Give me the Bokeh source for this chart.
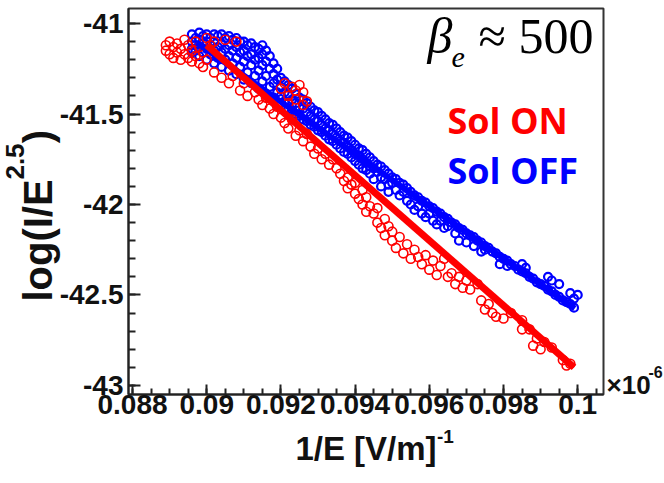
import math
from bokeh.plotting import figure
from bokeh.models import (Range1d, SingleIntervalTicker, FixedTicker, CustomJSTickFormatter,
                          Label, ColumnDataSource, LinearAxis)
from bokeh.embed import file_html
from bokeh.resources import INLINE

# ---------------- data ----------------
# Sol ON (red open circles): (1/E, log(I/E^2.5))
sol_on_points = [
    (0.0889, -41.12), (0.0889, -41.15), (0.0890, -41.10), (0.0890, -41.17), (0.0891, -41.13),
    (0.0891, -41.19), (0.0892, -41.11), (0.0892, -41.16), (0.0893, -41.14), (0.0893, -41.20),
    (0.0894, -41.09), (0.0894, -41.17), (0.0895, -41.12), (0.0895, -41.19), (0.0896, -41.15),
    (0.0896, -41.21), (0.0897, -41.10), (0.0897, -41.18), (0.0898, -41.13), (0.0898, -41.22),
    (0.0899, -41.16), (0.0900, -41.08), (0.0900, -41.20), (0.0901, -41.12), (0.0902, -41.10),
    (0.0905, -41.09), (0.0908, -41.10),
    (0.0899, -41.24), (0.0902, -41.27), (0.0904, -41.30), (0.0906, -41.33), (0.0907, -41.29),
    (0.0909, -41.37), (0.0910, -41.33), (0.0911, -41.40), (0.0913, -41.38), (0.0914, -41.42),
    (0.0915, -41.45), (0.0916, -41.41), (0.0917, -41.47), (0.0918, -41.50), (0.0919, -41.46),
    (0.0920, -41.36), (0.0921, -41.33), (0.0922, -41.40), (0.0923, -41.35), (0.0924, -41.42),
    (0.0925, -41.34), (0.0926, -41.38), (0.0927, -41.43), (0.0922, -41.44), (0.0924, -41.37),
    (0.0926, -41.45),
    (0.0920, -41.52), (0.0921, -41.55), (0.0922, -41.58), (0.0923, -41.53), (0.0924, -41.62),
    (0.0925, -41.59), (0.0926, -41.65), (0.0927, -41.61), (0.0928, -41.68), (0.0929, -41.72),
    (0.0930, -41.69), (0.0931, -41.75), (0.0932, -41.72), (0.0933, -41.78), (0.0934, -41.75),
    (0.0935, -41.80),
    (0.0936, -41.83), (0.0937, -41.87), (0.0938, -41.85), (0.0938, -41.91), (0.0939, -41.89),
    (0.0940, -41.94), (0.0940, -41.88), (0.0941, -41.97), (0.0942, -41.92), (0.0942, -42.00),
    (0.0943, -41.96), (0.0943, -42.04), (0.0944, -42.01),
    (0.0945, -42.05), (0.0946, -42.10), (0.0946, -42.02), (0.0947, -42.13), (0.0948, -42.08),
    (0.0948, -42.17), (0.0949, -42.12), (0.0950, -42.20), (0.0950, -42.15), (0.0951, -42.24),
    (0.0952, -42.18), (0.0953, -42.27), (0.0954, -42.22), (0.0955, -42.30),
    (0.0956, -42.25), (0.0957, -42.29), (0.0958, -42.33), (0.0959, -42.28), (0.0960, -42.36),
    (0.0961, -42.31), (0.0962, -42.39), (0.0963, -42.34), (0.0964, -42.30), (0.0965, -42.40),
    (0.0966, -42.38), (0.0967, -42.44), (0.0968, -42.40), (0.0969, -42.46), (0.0970, -42.42),
    (0.0971, -42.47), (0.0973, -42.44), (0.0974, -42.53), (0.0975, -42.58), (0.0976, -42.55),
    (0.0977, -42.60), (0.0978, -42.62), (0.0980, -42.63), (0.0982, -42.60), (0.0985, -42.64),
    (0.0985, -42.69), (0.0987, -42.69), (0.0988, -42.78), (0.0989, -42.74), (0.0990, -42.80),
    (0.0991, -42.76), (0.0993, -42.79), (0.0996, -42.86), (0.0997, -42.89), (0.0998, -42.88),
]

# Sol OFF (blue open circles)
sol_off_points = [
    (0.0896, -41.06), (0.0896, -41.10), (0.0896, -41.14), (0.0896, -41.16),
    (0.0897, -41.08), (0.0897, -41.12), (0.0897, -41.15),
    (0.0898, -41.05), (0.0898, -41.09), (0.0898, -41.13), (0.0898, -41.18),
    (0.0899, -41.07), (0.0899, -41.11), (0.0899, -41.16),
    (0.0900, -41.06), (0.0900, -41.10), (0.0900, -41.14), (0.0900, -41.20),
    (0.0901, -41.08), (0.0901, -41.12), (0.0901, -41.17),
    (0.0902, -41.06), (0.0902, -41.10), (0.0902, -41.15), (0.0902, -41.22),
    (0.0903, -41.07), (0.0903, -41.13), (0.0903, -41.19),
    (0.0904, -41.06), (0.0904, -41.11), (0.0904, -41.16), (0.0904, -41.24),
    (0.0905, -41.08), (0.0905, -41.14), (0.0905, -41.20),
    (0.0906, -41.07), (0.0906, -41.12), (0.0906, -41.18), (0.0906, -41.26),
    (0.0907, -41.09), (0.0907, -41.15), (0.0907, -41.22),
    (0.0908, -41.08), (0.0908, -41.13), (0.0908, -41.19), (0.0908, -41.28),
    (0.0909, -41.10), (0.0909, -41.16), (0.0909, -41.24),
    (0.0910, -41.10), (0.0910, -41.15), (0.0910, -41.21), (0.0910, -41.31),
    (0.0911, -41.12), (0.0911, -41.18), (0.0911, -41.27),
    (0.0912, -41.11), (0.0912, -41.17), (0.0912, -41.23), (0.0912, -41.33),
    (0.0913, -41.13), (0.0913, -41.20), (0.0913, -41.29),
    (0.0914, -41.14), (0.0914, -41.19), (0.0914, -41.26), (0.0914, -41.36),
    (0.0915, -41.12), (0.0915, -41.17), (0.0915, -41.23), (0.0915, -41.32),
    (0.0916, -41.15), (0.0916, -41.21), (0.0916, -41.29), (0.0916, -41.39),
    (0.0917, -41.18), (0.0917, -41.25), (0.0917, -41.35),
    (0.0918, -41.22), (0.0918, -41.28), (0.0918, -41.33), (0.0918, -41.41),
    (0.0919, -41.25), (0.0919, -41.31), (0.0919, -41.38),
    (0.0920, -41.30), (0.0920, -41.35), (0.0920, -41.40), (0.0920, -41.44),
    (0.0921, -41.32), (0.0921, -41.38), (0.0921, -41.43),
    (0.0922, -41.34), (0.0922, -41.39), (0.0922, -41.44), (0.0922, -41.47),
    (0.0923, -41.36), (0.0923, -41.42), (0.0923, -41.48),
    (0.0924, -41.39), (0.0924, -41.44), (0.0924, -41.50),
    (0.0925, -41.41), (0.0925, -41.46), (0.0925, -41.51),
    (0.0926, -41.42), (0.0926, -41.47), (0.0926, -41.53),
    (0.0927, -41.44), (0.0927, -41.49), (0.0927, -41.54),
    (0.0928, -41.46), (0.0928, -41.51), (0.0928, -41.56),
    (0.0929, -41.48), (0.0929, -41.53), (0.0929, -41.57),
    (0.0930, -41.49), (0.0930, -41.54), (0.0930, -41.59),
    (0.0931, -41.51), (0.0931, -41.56), (0.0931, -41.60),
    (0.0932, -41.53), (0.0932, -41.58), (0.0932, -41.62),
    (0.0933, -41.55), (0.0933, -41.59), (0.0933, -41.64),
    (0.0934, -41.56), (0.0934, -41.61), (0.0934, -41.65),
    (0.0935, -41.58), (0.0935, -41.63), (0.0935, -41.67),
    (0.0936, -41.60), (0.0936, -41.65), (0.0936, -41.69),
    (0.0937, -41.62), (0.0937, -41.66), (0.0937, -41.71),
    (0.0938, -41.63), (0.0938, -41.68), (0.0938, -41.72),
    (0.0939, -41.65), (0.0939, -41.70), (0.0939, -41.74),
    (0.0940, -41.67), (0.0940, -41.72), (0.0940, -41.76),
    (0.0941, -41.69), (0.0941, -41.73), (0.0941, -41.78),
    (0.0942, -41.70), (0.0942, -41.75), (0.0942, -41.80),
    (0.0943, -41.72), (0.0943, -41.77), (0.0943, -41.81),
    (0.0944, -41.74), (0.0944, -41.79), (0.0944, -41.83),
    (0.0945, -41.76), (0.0945, -41.80), (0.0945, -41.86),
    (0.0946, -41.78), (0.0946, -41.82),
    (0.0947, -41.79), (0.0947, -41.85), (0.0947, -41.90),
    (0.0948, -41.81), (0.0948, -41.86),
    (0.0949, -41.83), (0.0949, -41.89), (0.0949, -41.93),
    (0.0950, -41.85), (0.0950, -41.88),
    (0.0951, -41.86), (0.0951, -41.92),
    (0.0952, -41.88), (0.0952, -41.95),
    (0.0953, -41.89), (0.0953, -41.93),
    (0.0954, -41.91), (0.0954, -41.98),
    (0.0955, -41.93), (0.0955, -42.00),
    (0.0956, -41.95), (0.0956, -42.03),
    (0.0957, -41.96), (0.0957, -42.01),
    (0.0958, -41.98), (0.0958, -42.05),
    (0.0959, -41.99), (0.0959, -42.07),
    (0.0960, -42.01), (0.0960, -42.05),
    (0.0961, -42.02), (0.0961, -42.09),
    (0.0962, -42.04), (0.0962, -42.11),
    (0.0963, -42.05), (0.0963, -42.09),
    (0.0964, -42.07), (0.0964, -42.13),
    (0.0965, -42.08), (0.0965, -42.12),
    (0.0966, -42.10),
    (0.0967, -42.11), (0.0967, -42.16),
    (0.0968, -42.13), (0.0968, -42.20),
    (0.0969, -42.14),
    (0.0970, -42.16), (0.0970, -42.21),
    (0.0971, -42.17),
    (0.0972, -42.18), (0.0972, -42.23),
    (0.0973, -42.20),
    (0.0974, -42.21), (0.0974, -42.26),
    (0.0975, -42.23), (0.0975, -42.25),
    (0.0976, -42.24),
    (0.0977, -42.26),
    (0.0978, -42.27),
    (0.0979, -42.29), (0.0979, -42.33),
    (0.0980, -42.30),
    (0.0981, -42.31), (0.0981, -42.34),
    (0.0982, -42.33),
    (0.0983, -42.34),
    (0.0984, -42.36),
    (0.0985, -42.37), (0.0985, -42.33),
    (0.0986, -42.38), (0.0986, -42.35),
    (0.0987, -42.40),
    (0.0988, -42.41),
    (0.0989, -42.43),
    (0.0990, -42.44),
    (0.0991, -42.45),
    (0.0992, -42.47), (0.0992, -42.40),
    (0.0993, -42.48), (0.0993, -42.42),
    (0.0994, -42.50),
    (0.0995, -42.51), (0.0995, -42.44),
    (0.0996, -42.53),
    (0.0997, -42.54),
    (0.0998, -42.55), (0.0998, -42.49),
    (0.0999, -42.57), (0.0999, -42.52),
    (0.1000, -42.50),
]

# fitted straight lines (end points)
fit_on_x = [0.0900, 0.0999]
fit_on_y = [-41.12, -42.90]
fit_off_x = [0.08973, 0.09992]
fit_off_y = [-41.105, -42.575]

x_range_limits = (0.087892, 0.100695)
y_range_limits = (-43.050, -40.917)

# ---------------- figure geometry ----------------
W, H = 664, 483
FL, FR, FT, FB = 128, 603, 8, 394          # frame edges in canvas pixels

def x_at(cx):   # canvas px -> x data (for placing border texts)
    x0, x1 = x_range_limits
    return x0 + (cx - FL) * (x1 - x0) / (FR - FL)

def y_at(cy):   # canvas px -> y data
    y0, y1 = y_range_limits
    return y0 + (FB - cy) * (y1 - y0) / (FB - FT)

p = figure(width=W, height=H, frame_width=FR - FL, frame_height=FB - FT,
           output_backend="svg", toolbar_location=None,
           x_range=Range1d(*x_range_limits), y_range=Range1d(*y_range_limits),
           min_border_left=FL, min_border_right=W - FR, min_border_top=FT,
           min_border_bottom=H - FB)
p.grid.visible = False
p.background_fill_color = "white"
p.border_fill_color = "white"
p.outline_line_color = "#333333"
p.outline_line_width = 2

fmt = CustomJSTickFormatter(code="return String(parseFloat(tick.toFixed(4)));")

p.xaxis.ticker = SingleIntervalTicker(interval=0.002, num_minor_ticks=4)
p.yaxis.ticker = SingleIntervalTicker(interval=0.5, num_minor_ticks=5)
for ax, mj, mn, fs in ((p.xaxis, 10, 6, "28px"), (p.yaxis, 12, 7, "28px")):
    ax.formatter = fmt
    ax.major_tick_in = mj
    ax.major_tick_out = 0
    ax.minor_tick_in = mn
    ax.minor_tick_out = 0
    ax.axis_line_width = 2
    ax.axis_line_color = "#222222"
    ax.major_tick_line_width = 2
    ax.minor_tick_line_width = 2
    ax.major_tick_line_color = "#222222"
    ax.minor_tick_line_color = "#222222"
    ax.major_label_text_font = "Liberation Sans"
    ax.major_label_text_font_style = "bold"
    ax.major_label_text_font_size = fs
    ax.major_label_text_color = "#111111"
p.xaxis.major_label_standoff = 0
p.yaxis.major_label_standoff = 5


def text_axis(side, ticks, code, size, standoff, orientation="horizontal",
              label=None, label_size=None, label_standoff=0):
    ax = LinearAxis(ticker=FixedTicker(ticks=ticks, minor_ticks=[]),
                    formatter=CustomJSTickFormatter(code=code))
    ax.axis_line_color = None
    ax.major_tick_line_color = None
    ax.minor_tick_line_color = None
    ax.major_tick_in = 0
    ax.major_tick_out = 0
    ax.minor_tick_in = 0
    ax.minor_tick_out = 0
    ax.major_label_standoff = standoff
    ax.major_label_orientation = orientation
    ax.major_label_text_font = "Liberation Sans"
    ax.major_label_text_font_style = "bold"
    ax.major_label_text_font_size = size
    ax.major_label_text_color = "#111111"
    if label is not None:
        ax.axis_label = label
        ax.axis_label_text_font = "Liberation Sans"
        ax.axis_label_text_font_style = "bold"
        ax.axis_label_text_font_size = label_size
        ax.axis_label_text_color = "#111111"
        ax.axis_label_standoff = label_standoff
    p.add_layout(ax, side)
    return ax

# x axis title "1/E [V/m]" with superscript "-1"
text_axis("below", [x_at(445)], 'return "-1";', "19px", 13,
          label="1/E [V/m]", label_size="33px", label_standoff=-16)

# y axis title "log(I/E" ... ")" with superscript "2.5"
text_axis("left", [y_at(240), y_at(136)],
          'return index == 0 ? "log(I/E" : ")";', "40px", -3, orientation="vertical")
text_axis("left", [y_at(161)], 'return "2.5";', "26px", -11, orientation="vertical")

# exponent of the x axis: "x10" with superscript "-6"
text_axis("right", [y_at(384)], 'return "\u00d710";', "26px", 3)
text_axis("right", [y_at(371)], 'return "-6";', "16px", -5)

# ---------------- marks ----------------
on_src = ColumnDataSource(dict(x=[pt[0] for pt in sol_on_points], y=[pt[1] for pt in sol_on_points]))
off_src = ColumnDataSource(dict(x=[pt[0] for pt in sol_off_points], y=[pt[1] for pt in sol_off_points]))

p.scatter("x", "y", source=off_src, marker="circle", size=8, fill_color=None,
          line_color="#0000ff", line_width=2.2)
p.scatter("x", "y", source=on_src, marker="circle", size=9, fill_color=None,
          line_color="#ff0000", line_width=1.6)
p.line(fit_off_x, fit_off_y, line_color="#0000ff", line_width=6)
p.line(fit_on_x, fit_on_y, line_color="#ff0000", line_width=7)


def lab(text, cx, cy, size, color="#000000", font="Liberation Sans", style="bold"):
    # cx, cy: canvas pixel position of the text start / baseline
    p.add_layout(Label(x=cx - FL, y=FB - cy, x_units="screen", y_units="screen", text=text,
                       text_font=font, text_font_style=style, text_font_size=size,
                       text_color=color, text_baseline="alphabetic", text_align="left"))

# annotation: beta_e ~ 500
lab("β", 427, 35, "50px", font="Liberation Serif", style="italic")
lab("e", 451, 57, "30px", font="Liberation Serif", style="italic")
lab("≈ 500", 478, 35, "50px", font="Liberation Serif", style="normal")

# legend texts
lab("Sol ON", 447, 120, "36px", color="#ff0000", font="Open Sans")
lab("Sol OFF", 447, 170, "36px", color="#0000ff", font="Open Sans")

open("out.html", "w").write(file_html(p, INLINE))
